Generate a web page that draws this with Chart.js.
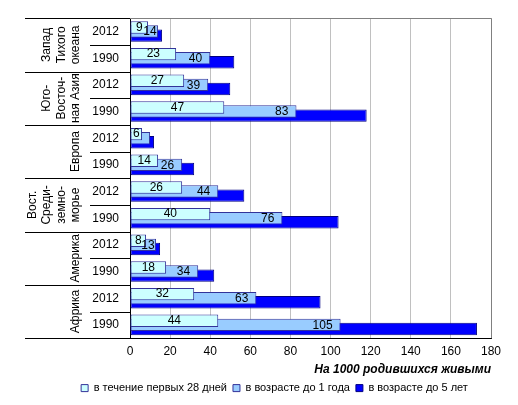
<!DOCTYPE html>
<html><head><meta charset="utf-8">
<script src="https://cdn.jsdelivr.net/npm/chart.js@4.4.1/dist/chart.umd.min.js"></script>
<style>html,body{margin:0;padding:0;background:#fff}canvas{display:block}</style>
</head><body>
<canvas id="c" width="518" height="405"></canvas>
<script>
// ---- data ----
const regions = [
  ["Запад", "Тихого", "океана"],
  ["Юго-", "Восточ-", "ная Азия"],
  ["Европа"],
  ["Вост.", "Среди-", "земно-", "морье"],
  ["Америка"],
  ["Африка"]
];
const years = ["2012", "1990"];
const categories = regions.flatMap(() => years);
const neonatal = [9, 23, 27, 47, 6, 14, 26, 40, 8, 18, 32, 44];
const infant   = [14, 40, 39, 83, 10, 26, 44, 76, 13, 34, 63, 105];
const under5   = [16, 52, 50, 118, 12, 32, 57, 104, 15, 42, 95, 173];
const seriesNames = ["в течение первых 28 дней", "в возрасте до 1 года", "в возрасте до 5 лет"];
const xMin = 0, xMax = 180, xStep = 20;
const axisTitle = "На 1000 родившихся живыми";

const FONT = "'Liberation Sans', Arial, sans-serif";

const decor = {
  id: 'decor',
  beforeDatasetsDraw(chart) {
    const {ctx, chartArea: a} = chart;
    ctx.save();
    ctx.strokeStyle = '#808080';
    ctx.lineWidth = 1;
    ctx.beginPath();
    ctx.moveTo(a.left, Math.round(a.top) + 0.5);
    ctx.lineTo(Math.round(a.right) + 0.5, Math.round(a.top) + 0.5);
    ctx.lineTo(Math.round(a.right) + 0.5, a.bottom);
    ctx.stroke();
    ctx.restore();
  },
  afterDatasetsDraw(chart) {
    const {ctx} = chart;
    const m0 = chart.getDatasetMeta(0), m1 = chart.getDatasetMeta(1);
    ctx.save();
    ctx.font = '12px ' + FONT;
    ctx.fillStyle = '#000';
    ctx.textBaseline = 'middle';
    m0.data.forEach((el, i) => {
      ctx.textAlign = 'center';
      ctx.fillText(String(neonatal[i]), (el.x + el.base) / 2, el.y);
    });
    m1.data.forEach((el, i) => {
      const diff = infant[i] - neonatal[i];
      if (diff < 5) return;
      const cyanEnd = m0.data[i].x;
      const right = (el.x - cyanEnd) < 12 ? el.x - 1.5 : el.x - 8;
      ctx.textAlign = 'right';
      ctx.fillText(String(infant[i]), right, el.y + 0.5);
    });
    ctx.restore();
  },
  afterDraw(chart) {
    const {ctx, chartArea: a} = chart;
    const ys = chart.scales.y;
    const half = (ys.getPixelForValue(1) - ys.getPixelForValue(0)) / 2;
    ctx.save();
    ctx.strokeStyle = '#000';
    ctx.lineWidth = 1;
    ctx.beginPath();
    regions.forEach((r, g) => {
      const top = Math.round(ys.getPixelForValue(2 * g) - half) + 0.5;
      const mid = Math.round(ys.getPixelForValue(2 * g) + half) + 0.5;
      ctx.moveTo(25, top); ctx.lineTo(a.left, top);
      ctx.moveTo(90, mid); ctx.lineTo(a.left, mid);
      if (g === regions.length - 1) {
        const bot = Math.round(ys.getPixelForValue(2 * g + 1) + half) + 0.5;
        ctx.moveTo(25, bot); ctx.lineTo(a.left, bot);
      }
    });
    ctx.stroke();
    // group labels
    ctx.font = '12px ' + FONT;
    ctx.fillStyle = '#000';
    ctx.textAlign = 'center';
    ctx.textBaseline = 'middle';
    regions.forEach((lines, g) => {
      const yc = (ys.getPixelForValue(2 * g) + ys.getPixelForValue(2 * g + 1)) / 2;
      const n = lines.length;
      lines.forEach((t, i) => {
        const x = 76 - 14.5 * (n - 1 - i);
        ctx.save();
        ctx.translate(x, yc);
        ctx.rotate(-Math.PI / 2);
        ctx.fillText(t, 0, 0);
        ctx.restore();
      });
    });
    ctx.restore();
  }
};

new Chart(document.getElementById('c'), {
  type: 'bar',
  data: {
    labels: categories,
    datasets: [
      {label: seriesNames[0], data: neonatal, backgroundColor: '#CCFFFF', borderColor: '#333399', borderWidth: 1, borderSkipped: false},
      {label: seriesNames[1], data: infant, backgroundColor: '#99CCFF', borderColor: '#333399', borderWidth: 1, borderSkipped: false},
      {label: seriesNames[2], data: under5, backgroundColor: '#0000FF', borderColor: '#000080', borderWidth: 1, borderSkipped: false}
    ]
  },
  options: {
    indexAxis: 'y',
    responsive: false,
    animation: false,
    devicePixelRatio: 1,
    categoryPercentage: 0.46,
    barPercentage: 3.05,
    layout: {padding: {top: 15, right: 27, left: 58, bottom: 1.4}},
    scales: {
      x: {
        min: xMin, max: xMax,
        ticks: {stepSize: xStep, color: '#000', font: {family: FONT, size: 12}, padding: 6},
        grid: {color: '#C0C0C0', drawTicks: false},
        border: {color: '#000', width: 1},
        title: {display: true, text: axisTitle, align: 'end', color: '#000',
          font: {family: FONT, size: 12, weight: 'bold', style: 'italic'}, padding: {top: 0, bottom: 0}},
        afterFit(s) { s.height = 38.4; }
      },
      y: {
        ticks: {color: '#000', font: {family: FONT, size: 12}, padding: 11, autoSkip: false},
        grid: {display: false, drawTicks: false},
        border: {color: '#000', width: 1},
        afterFit(s) { s.width = 72; }
      }
    },
    plugins: {
      legend: {
        position: 'bottom',
        labels: {boxWidth: 7, boxHeight: 7, padding: 6, color: '#000',
          font: {family: FONT, size: 11, lineHeight: 1.2}}
      },
      tooltip: {enabled: false}
    }
  },
  plugins: [decor]
});
</script>
</body></html>
